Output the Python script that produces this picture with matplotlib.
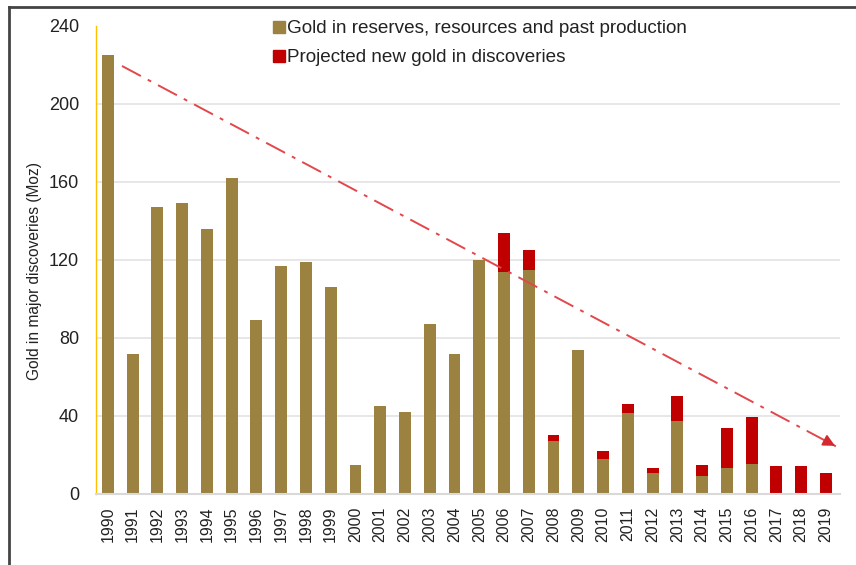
#!/usr/bin/env python3
# coding: utf-8

import numpy as np
import matplotlib
matplotlib.use('Agg')
import matplotlib.pyplot as plt
from matplotlib.lines import Line2D

plt.rcParams['font.family'] = ['Liberation Sans', 'DejaVu Sans']

# --- data (Moz)
years = [str(y) for y in range(1990, 2020)]
gold_reserves = [225, 72, 147, 149, 136, 162, 89, 117, 119, 106,
                 15, 45, 42, 87, 72, 120, 114, 115, 27, 74,
                 18, 41.5, 11, 37.5, 9, 13.5, 15.5, 0, 0, 0]
projected_new = [0, 0, 0, 0, 0, 0, 0, 0, 0, 0,
                 0, 0, 0, 0, 0, 0, 20, 10, 3, 0,
                 4, 4.5, 2.5, 12.5, 6, 20.5, 24, 14.5, 14.5, 11]
# trend arrow (category index, Moz)
trend_x = [0.57, 29.47]
trend_y = [219.5, 24.0]

yticks = [0, 40, 80, 120, 160, 200, 240]
gold_col = '#9B8241'
red_col = '#C00000'

fig = plt.figure(figsize=(8.56, 5.65), dpi=100)
ax = fig.add_axes([0.112, 0.1257, 0.869, 0.8283])

x = np.arange(len(years))
ax.bar(x, gold_reserves, width=0.48, color=gold_col, zorder=2)
ax.bar(x, projected_new, width=0.48, bottom=gold_reserves, color=red_col,
       zorder=2)

# --- dash-dot trend line + arrow head
ax.plot(trend_x, trend_y, color='#E2474B', lw=1.4,
        dashes=(11, 4, 2, 4), zorder=3)
dx = trend_x[1] - trend_x[0]
dy = trend_y[1] - trend_y[0]
ax.annotate('', xy=(trend_x[1], trend_y[1]),
            xytext=(trend_x[1] - dx * 0.02, trend_y[1] - dy * 0.02),
            arrowprops=dict(arrowstyle='-|>', color='#D42A2F',
                            mutation_scale=18, lw=1.2), zorder=3)

ax.set_xlim(-0.485, 29.56)
ax.set_ylim(0, 240)
ax.set_yticks(yticks)
ax.set_xticks(x)
ax.set_xticklabels(years, rotation=90, fontsize=11.5)
ax.tick_params(axis='x', length=0, pad=9, colors='#222222')
ax.tick_params(axis='y', length=0, pad=12, labelsize=13, colors='#222222')
for gy in yticks[1:-1]:
    ax.axhline(gy, color='#E3E3E3', lw=1.2, zorder=1)

for s in ['top', 'right']:
    ax.spines[s].set_visible(False)
ax.spines['left'].set_color('#FFC000')
ax.spines['left'].set_linewidth(1.0)
ax.spines['bottom'].set_color('#D9D9D9')
ax.spines['bottom'].set_linewidth(1.5)

ax.set_ylabel('Gold in major discoveries (Moz)', fontsize=11.2,
              color='#222222')
ax.yaxis.set_label_coords(-0.072, 0.476)

handles = [Line2D([], [], marker='s', ls='', color=gold_col, markersize=9),
           Line2D([], [], marker='s', ls='', color=red_col, markersize=9)]
ax.legend(handles, ['Gold in reserves, resources and past production',
                    'Projected new gold in discoveries'],
          loc='upper left', bbox_to_anchor=(0.304, 0.981),
          bbox_transform=fig.transFigure, frameon=False, fontsize=13.6,
          handletextpad=-0.1, handlelength=1.0, borderpad=0,
          labelspacing=0.62, labelcolor='#222222')

# --- outer frame (top and left only)
fig.add_artist(Line2D([0.0105, 1.0], [0.9876, 0.9876], color='#444444',
                      lw=2, transform=fig.transFigure))
fig.add_artist(Line2D([0.0105, 0.0105], [0.0, 0.9876], color='#444444',
                      lw=2, transform=fig.transFigure))

fig.savefig('out.png', dpi=100)
